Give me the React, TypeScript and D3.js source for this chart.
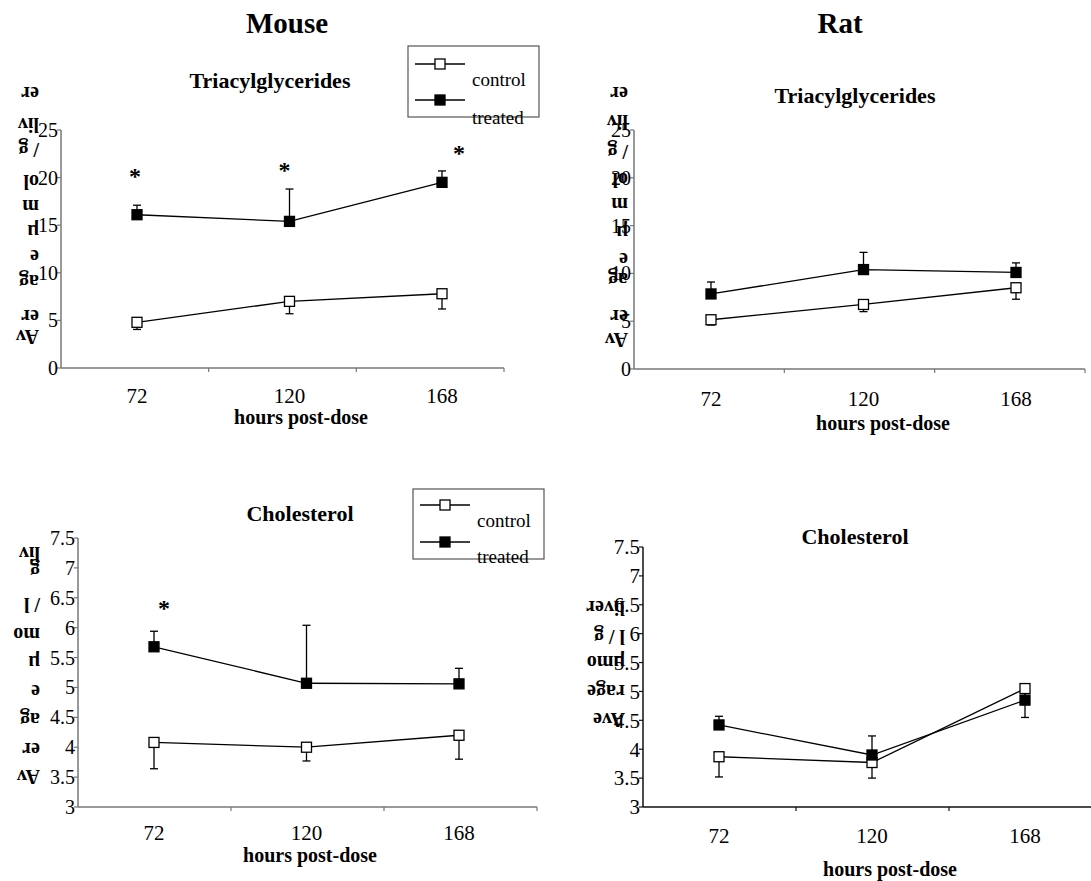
import React from "react";
import * as d3 from "d3";

// Sampling times (hours after dosing)
const hours = [72, 120, 168];
const hourLabels = ["72", "120", "168"];

// Triacylglycerides, µmol / g liver — mouse
const mouseTgControl = [4.8, 7.0, 7.8];
const mouseTgControlErr = [0.75, 1.3, 1.6];
const mouseTgTreated = [16.1, 15.4, 19.5];
const mouseTgTreatedErr = [1.0, 3.4, 1.2];
const mouseTgStars = [20.5, 21.1, 22.9];

// Triacylglycerides, µmol / g liver — rat
const ratTgControl = [5.15, 6.75, 8.5];
const ratTgControlErr = [0.55, 0.75, 1.2];
const ratTgTreated = [7.85, 10.4, 10.1];
const ratTgTreatedErr = [1.25, 1.8, 1.0];

// Cholesterol, µmol / g liver — mouse
const mouseCholControl = [4.08, 4.0, 4.2];
const mouseCholControlErr = [0.44, 0.23, 0.4];
const mouseCholTreated = [5.68, 5.07, 5.06];
const mouseCholTreatedErr = [0.26, 0.97, 0.26];
const mouseCholStars = [6.38, null, null];

// Cholesterol, µmol / g liver — rat
const ratCholControl = [3.87, 3.77, 5.05];
const ratCholControlErr = [0.35, 0.27, 0.5];
const ratCholTreated = [4.42, 3.9, 4.85];
const ratCholTreatedErr = [0.15, 0.33, 0.2];

const tgTicks = [0, 5, 10, 15, 20, 25];
const cholTicks = [3, 3.5, 4, 4.5, 5, 5.5, 6, 6.5, 7, 7.5];

const legendLabels = ["control", "treated"];

const FONT = "'Liberation Serif', 'Times New Roman', serif";

type Series = { values: number[]; err: number[]; filled: boolean; up: boolean };

type PanelCfg = {
  title: string;
  titleX: number;
  titleY: number;
  x0: number;
  xEnd: number;
  firstX: number;
  step: number;
  yTop: number;
  yBottom: number;
  domain: [number, number];
  ticks: number[];
  axisColor: string;
  tickSize: number;
  xLabelY: number;
  xTitleX: number;
  xTitleY: number;
  series: Series[];
  stars?: (number | null)[];
  starDx?: number[];
  yChunks: [string, number][];
  yChunkX: number;
};

const panels: PanelCfg[] = [
  {
    title: "Triacylglycerides",
    titleX: 270,
    titleY: 88,
    x0: 61,
    xEnd: 504,
    firstX: 137,
    step: 152.5,
    yTop: 130,
    yBottom: 368,
    domain: [0, 25],
    ticks: tgTicks,
    axisColor: "#777",
    tickSize: 20,
    xLabelY: 403,
    xTitleX: 301,
    xTitleY: 424,
    series: [
      { values: mouseTgControl, err: mouseTgControlErr, filled: false, up: false },
      { values: mouseTgTreated, err: mouseTgTreatedErr, filled: true, up: true },
    ],
    stars: mouseTgStars,
    starDx: [-2, -5, 17],
    yChunks: [
      ["Av", 337], ["er", 317], ["ag", 282], ["e", 257], ["µ", 232],
      ["m", 207], ["ol", 182], ["/ g", 150], ["liv", 125], ["er", 94],
    ],
    yChunkX: 39,
  },
  {
    title: "Triacylglycerides",
    titleX: 855,
    titleY: 103,
    x0: 634,
    xEnd: 1085,
    firstX: 711,
    step: 152.5,
    yTop: 130,
    yBottom: 369,
    domain: [0, 25],
    ticks: tgTicks,
    axisColor: "#777",
    tickSize: 20,
    xLabelY: 406,
    xTitleX: 883,
    xTitleY: 430,
    series: [
      { values: ratTgControl, err: ratTgControlErr, filled: false, up: false },
      { values: ratTgTreated, err: ratTgTreatedErr, filled: true, up: true },
    ],
    yChunks: [
      ["Av", 340], ["er", 317], ["ag", 280], ["e", 260], ["µ", 233],
      ["m", 205], ["ol", 180], ["/ g", 152], ["liv", 122], ["er", 94],
    ],
    yChunkX: 628,
  },
  {
    title: "Cholesterol",
    titleX: 300,
    titleY: 521,
    x0: 78,
    xEnd: 537,
    firstX: 154,
    step: 152.5,
    yTop: 538,
    yBottom: 807,
    domain: [3, 7.5],
    ticks: cholTicks,
    axisColor: "#777",
    tickSize: 20,
    xLabelY: 840,
    xTitleX: 310,
    xTitleY: 862,
    series: [
      { values: mouseCholControl, err: mouseCholControlErr, filled: false, up: false },
      { values: mouseCholTreated, err: mouseCholTreatedErr, filled: true, up: true },
    ],
    stars: mouseCholStars,
    starDx: [10, 0, 0],
    yChunks: [
      ["Av", 777], ["er", 750], ["ag", 720], ["e", 692], ["µ", 663],
      ["mo", 635], ["/ l", 605], ["g", 571], ["liv", 554],
    ],
    yChunkX: 40,
  },
  {
    title: "Cholesterol",
    titleX: 855,
    titleY: 544,
    x0: 643,
    xEnd: 1102,
    firstX: 719,
    step: 153,
    yTop: 547,
    yBottom: 807,
    domain: [3, 7.5],
    ticks: cholTicks,
    axisColor: "#111",
    tickSize: 21,
    xLabelY: 843,
    xTitleX: 890,
    xTitleY: 876,
    series: [
      { values: ratCholControl, err: ratCholControlErr, filled: false, up: false },
      { values: ratCholTreated, err: ratCholTreatedErr, filled: true, up: true },
    ],
    yChunks: [
      ["Ave", 720], ["rage", 692], ["µmo", 663], ["l / g", 637], ["liver", 608],
    ],
    yChunkX: 625,
  },
];

const MARK = 10;
const CAP = 4;

function Panel({ cfg }: { cfg: PanelCfg }) {
  const y = d3.scaleLinear().domain(cfg.domain).range([cfg.yBottom, cfg.yTop]);
  const axisBand = d3.scaleBand<number>().domain(hours).range([cfg.x0, cfg.xEnd]);
  const x = d3
    .scalePoint<number>()
    .domain(hours)
    .range([cfg.firstX, cfg.firstX + cfg.step * (hours.length - 1)]);
  const line = d3
    .line<number>()
    .x((_, i) => x(hours[i]) as number)
    .y((v) => y(v));

  const xTickPos = [...hours.slice(1).map((h) => axisBand(h) as number), cfg.xEnd];

  return (
    <g>
      <text
        x={cfg.titleX}
        y={cfg.titleY}
        textAnchor="middle"
        fontFamily={FONT}
        fontWeight="bold"
        fontSize={22}
      >
        {cfg.title}
      </text>

      {/* stacked, inverted y-axis caption */}
      {cfg.yChunks.map(([t, cy], i) => (
        <text
          key={"yc" + i}
          x={cfg.yChunkX}
          y={cy}
          textAnchor="start"
          dominantBaseline="central"
          fontFamily={FONT}
          fontWeight="bold"
          fontSize={20}
          transform={`rotate(180 ${cfg.yChunkX} ${cy})`}
        >
          {t}
        </text>
      ))}

      {/* y axis */}
      <line x1={cfg.x0} x2={cfg.x0} y1={cfg.yTop} y2={cfg.yBottom} stroke={cfg.axisColor} strokeWidth={1.5} />
      {cfg.ticks.map((t) => (
        <g key={"yt" + t}>
          <line x1={cfg.x0 - 4} x2={cfg.x0} y1={y(t)} y2={y(t)} stroke={cfg.axisColor} strokeWidth={1.2} />
          <text
            x={cfg.x0 - 3}
            y={y(t)}
            dy="0.35em"
            textAnchor="end"
            fontFamily={FONT}
            fontSize={cfg.tickSize}
          >
            {String(t)}
          </text>
        </g>
      ))}

      {/* x axis */}
      <line x1={cfg.x0} x2={cfg.xEnd} y1={cfg.yBottom} y2={cfg.yBottom} stroke={cfg.axisColor} strokeWidth={1.5} />
      {xTickPos.map((p, i) => (
        <line key={"xt" + i} x1={p} x2={p} y1={cfg.yBottom} y2={cfg.yBottom + 4} stroke={cfg.axisColor} strokeWidth={1.2} />
      ))}
      {hours.map((h, i) => (
        <text
          key={"xl" + h}
          x={x(h)}
          y={cfg.xLabelY}
          textAnchor="middle"
          fontFamily={FONT}
          fontSize={21}
        >
          {hourLabels[i]}
        </text>
      ))}
      <text
        x={cfg.xTitleX}
        y={cfg.xTitleY}
        textAnchor="middle"
        fontFamily={FONT}
        fontWeight="bold"
        fontSize={20}
      >
        hours post-dose
      </text>

      {/* series: error bars, line, markers */}
      {cfg.series.map((s, si) => (
        <g key={"s" + si}>
          {s.values.map((v, i) => {
            const px = x(hours[i]) as number;
            const end = s.up ? v + s.err[i] : v - s.err[i];
            return (
              <g key={"e" + i}>
                <line x1={px} x2={px} y1={y(v)} y2={y(end)} stroke="#000" strokeWidth={1.3} />
                <line x1={px - CAP} x2={px + CAP} y1={y(end)} y2={y(end)} stroke="#000" strokeWidth={1.3} />
              </g>
            );
          })}
          <path d={line(s.values) || ""} fill="none" stroke="#000" strokeWidth={1.3} />
        </g>
      ))}
      {cfg.series.map((s, si) => (
        <g key={"m" + si}>
          {s.values.map((v, i) => (
            <rect
              key={"r" + i}
              x={(x(hours[i]) as number) - MARK / 2}
              y={y(v) - MARK / 2}
              width={MARK}
              height={MARK}
              fill={s.filled ? "#000" : "#fff"}
              stroke="#000"
              strokeWidth={1.3}
            />
          ))}
        </g>
      ))}

      {/* significance marks */}
      {cfg.stars &&
        cfg.stars.map((sv, i) =>
          sv == null ? null : (
            <text
              key={"st" + i}
              x={(x(hours[i]) as number) + (cfg.starDx ? cfg.starDx[i] : 0)}
              y={y(sv) + 11}
              textAnchor="middle"
              fontFamily={FONT}
              fontWeight="bold"
              fontSize={24}
            >
              *
            </text>
          )
        )}
    </g>
  );
}

function Legend({ x, y, w, h, rows }: { x: number; y: number; w: number; h: number; rows: { ly: number; ty: number }[] }) {
  return (
    <g>
      <rect x={x} y={y} width={w} height={h} fill="#fff" stroke="#555" strokeWidth={1.2} />
      {legendLabels.map((lab, i) => (
        <g key={lab}>
          <line x1={x + 7} x2={x + 57} y1={rows[i].ly} y2={rows[i].ly} stroke="#000" strokeWidth={1.3} />
          <rect
            x={x + 32 - MARK / 2}
            y={rows[i].ly - MARK / 2}
            width={MARK}
            height={MARK}
            fill={i === 1 ? "#000" : "#fff"}
            stroke="#000"
            strokeWidth={1.3}
          />
          <text x={x + 64} y={rows[i].ty} fontFamily={FONT} fontSize={19}>
            {lab}
          </text>
        </g>
      ))}
    </g>
  );
}

export default function App() {
  return (
    <svg
      width={1091}
      height={881}
      style={{ position: "absolute", left: 0, top: 0, display: "block", background: "#fff" }}
    >
      <rect width={1091} height={881} fill="#fff" />
      <text x={287} y={33} textAnchor="middle" fontFamily={FONT} fontWeight="bold" fontSize={29}>
        Mouse
      </text>
      <text x={840} y={33} textAnchor="middle" fontFamily={FONT} fontWeight="bold" fontSize={29}>
        Rat
      </text>
      {panels.map((p, i) => (
        <Panel key={i} cfg={p} />
      ))}
      <Legend x={408} y={46} w={131} h={71} rows={[{ ly: 64, ty: 86 }, { ly: 100, ty: 124 }]} />
      <Legend x={413} y={489} w={131} h={70} rows={[{ ly: 505, ty: 527 }, { ly: 542, ty: 563 }]} />
    </svg>
  );
}
